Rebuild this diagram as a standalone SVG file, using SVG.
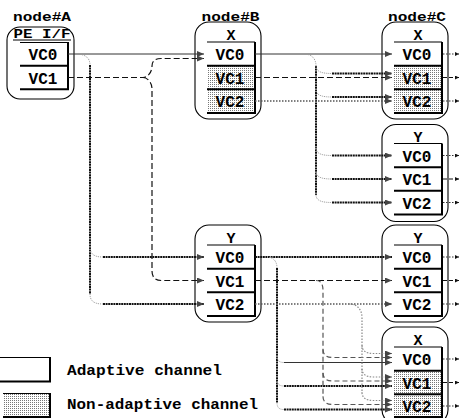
<svg xmlns="http://www.w3.org/2000/svg" width="459" height="418" viewBox="0 0 459 418">
  <defs>
    <pattern id="stip" width="2" height="2" patternUnits="userSpaceOnUse">
      <rect width="2" height="2" fill="#fff"/>
      <rect width="1" height="1" fill="#777"/>
    </pattern>
    <marker id="ah" viewBox="0 0 7 6" refX="7" refY="3" markerWidth="7" markerHeight="6" markerUnits="userSpaceOnUse" orient="auto">
      <path d="M0,0L7,3L0,6z" fill="#444"/>
    </marker>
    <marker id="ahs" viewBox="0 0 4 4" refX="4" refY="2" markerWidth="4" markerHeight="4" markerUnits="userSpaceOnUse" orient="auto">
      <path d="M0,0L4,2L0,4z" fill="#111"/>
    </marker>
  </defs>
  <style>
    .frame { fill: #fff; stroke: #000; stroke-width: 1.1; }
    .bt { fill: none; stroke: #000; stroke-width: 1.2; }
    .bk { fill: none; stroke: #000; stroke-width: 2; }
    .stip { fill: url(#stip); }
    .lbl { font-family: "Liberation Mono", "DejaVu Sans Mono", monospace; font-weight: bold; fill: #000; text-anchor: middle; }
    .nl { font-size: 13px; }
    .hd { font-size: 15px; }
    .vc { font-size: 16px; }
    .lg { font-family: "Liberation Mono", "DejaVu Sans Mono", monospace; font-weight: bold; font-size: 15px; fill: #000; }
    .ln { fill: none; stroke: #333; stroke-width: 1; }
    .tk { fill: none; stroke: #111; stroke-width: 2; stroke-dasharray: 2 0.6; }
    .cv { fill: none; stroke: #999; stroke-width: 1; stroke-dasharray: 1 1; }
    .ds { fill: none; stroke: #111; stroke-width: 1.2; stroke-dasharray: 6 3; }
    .dsg { fill: none; stroke: #555; stroke-width: 1.2; stroke-dasharray: 5 3; }
    .dt { fill: none; stroke: #555; stroke-width: 1.3; stroke-dasharray: 1.5 1.5; }
    .dtg { fill: none; stroke: #888; stroke-width: 1.2; stroke-dasharray: 1.5 1.5; }
    .os { fill: none; stroke: #333; stroke-width: 1.2; stroke-dasharray: 1.5 1.5; }
    .od { fill: none; stroke: #111; stroke-width: 1.2; stroke-dasharray: 4 2; }
  </style>

  <rect width="459" height="418" fill="#fff"/>

  <!-- node A: PE interface -->
  <g id="node-A">
    <text class="lbl nl" x="42" y="20.5" textLength="58" lengthAdjust="spacingAndGlyphs">node#A</text>
    <rect class="frame" x="7" y="27" width="67" height="72" rx="13"/>
    <text class="lbl nl" x="42" y="38" textLength="57" lengthAdjust="spacingAndGlyphs">PE I/F</text>
    <path class="bt" d="M13,40H71"/>
    <path class="bt" d="M20,42.5H68"/>
    <path class="bk" d="M68,42V89.3M20,65.7H68M20,89.3H69"/>
    <text class="lbl vc" x="43" y="60">VC0</text>
    <text class="lbl vc" x="43" y="83.7">VC1</text>
  </g>

  <!-- node B, dimension X -->
  <g id="node-B-X">
    <text class="lbl nl" x="230.5" y="20.5" textLength="58" lengthAdjust="spacingAndGlyphs">node#B</text>
    <rect class="frame" x="195" y="22" width="66" height="97" rx="14"/>
    <text class="lbl hd" x="231" y="40">X</text>
    <rect class="stip" x="207" y="65.7" width="48" height="47.3"/>
    <path class="bt" d="M207,42H255"/>
    <path class="bk" d="M255,42V113M207,65.7H255M207,89.3H255M207,113H256"/>
    <text class="lbl vc" x="230" y="60">VC0</text>
    <text class="lbl vc" x="230" y="83.7">VC1</text>
    <text class="lbl vc" x="230" y="107.3">VC2</text>
  </g>

  <!-- node B, dimension Y -->
  <g id="node-B-Y">
    <rect class="frame" x="195" y="225" width="66" height="97" rx="14"/>
    <text class="lbl hd" x="231" y="243">Y</text>
    <path class="bt" d="M207,245H255"/>
    <path class="bk" d="M255,245V316M207,268.7H255M207,292.3H255M207,316H256"/>
    <text class="lbl vc" x="230" y="263">VC0</text>
    <text class="lbl vc" x="230" y="286.7">VC1</text>
    <text class="lbl vc" x="230" y="310.3">VC2</text>
  </g>

  <!-- node C, dimension X -->
  <g id="node-C-X">
    <text class="lbl nl" x="417" y="20.5" textLength="58" lengthAdjust="spacingAndGlyphs">node#C</text>
    <rect class="frame" x="382" y="22" width="66" height="97" rx="14"/>
    <text class="lbl hd" x="418" y="40">X</text>
    <rect class="stip" x="394" y="65.7" width="48" height="47.3"/>
    <path class="bt" d="M394,42H442"/>
    <path class="bk" d="M442,42V113M394,65.7H442M394,89.3H442M394,113H443"/>
    <text class="lbl vc" x="417" y="60">VC0</text>
    <text class="lbl vc" x="417" y="83.7">VC1</text>
    <text class="lbl vc" x="417" y="107.3">VC2</text>
  </g>

  <!-- node C, dimension Y (upper) -->
  <g id="node-C-Y1">
    <rect class="frame" x="382" y="124.5" width="66" height="97" rx="14"/>
    <text class="lbl hd" x="418" y="141.5">Y</text>
    <path class="bt" d="M394,143.5H442"/>
    <path class="bk" d="M442,143.5V214.5M394,167.2H442M394,190.8H442M394,214.5H443"/>
    <text class="lbl vc" x="417" y="161.5">VC0</text>
    <text class="lbl vc" x="417" y="185.2">VC1</text>
    <text class="lbl vc" x="417" y="208.8">VC2</text>
  </g>

  <!-- node C, dimension Y (lower) -->
  <g id="node-C-Y2">
    <rect class="frame" x="382" y="225" width="66" height="97" rx="14"/>
    <text class="lbl hd" x="418" y="243">Y</text>
    <path class="bt" d="M394,245H442"/>
    <path class="bk" d="M442,245V316M394,268.7H442M394,292.3H442M394,316H443"/>
    <text class="lbl vc" x="417" y="263">VC0</text>
    <text class="lbl vc" x="417" y="286.7">VC1</text>
    <text class="lbl vc" x="417" y="310.3">VC2</text>
  </g>

  <!-- node C, dimension X (lower) -->
  <g id="node-C-X2">
    <rect class="frame" x="382" y="327" width="66" height="97" rx="14"/>
    <text class="lbl hd" x="418" y="345">X</text>
    <rect class="stip" x="394" y="370.7" width="48" height="47.3"/>
    <path class="bt" d="M394,347H442"/>
    <path class="bk" d="M442,347V418M394,370.7H442M394,394.3H442M394,417H443"/>
    <text class="lbl vc" x="417" y="365">VC0</text>
    <text class="lbl vc" x="417" y="388.7">VC1</text>
    <text class="lbl vc" x="417" y="412.3">VC2</text>
  </g>

  <!-- legend -->
  <g id="legend">
    <path class="bt" d="M0,357.5H50"/>
    <path class="bk" d="M50,357V382M0,381.5H51"/>
    <text class="lg" x="67" y="375" textLength="155" lengthAdjust="spacingAndGlyphs">Adaptive channel</text>
    <rect class="stip" x="3" y="393" width="47" height="24"/>
    <path class="bt" d="M3,393.5H50"/>
    <path class="bk" d="M50,393V418M3,417H51"/>
    <text class="lg" x="67" y="409" textLength="191" lengthAdjust="spacingAndGlyphs">Non-adaptive channel</text>
  </g>

  <g id="connectors">
    <!-- from node A VC0 -->
    <path class="ln" d="M68,54H204" marker-end="url(#ah)"/>
    <path class="cv" d="M76,54C84,54 90,57 90,65"/>
    <path class="tk" d="M90,65V294"/>
    <path class="cv" d="M90,247C90,254 94,257 103,257"/>
    <path class="tk" d="M103,257H204" marker-end="url(#ah)"/>
    <path class="cv" d="M90,294C90,301 94,304 103,304"/>
    <path class="tk" d="M103,304H204" marker-end="url(#ah)"/>

    <!-- from node A VC1 -->
    <path class="ds" d="M68,77.5H143C148,77.5 152,72 152,66C152,61 155,58.5 161,58.5H204" marker-end="url(#ah)"/>
    <path class="ds" d="M143,77.5C148,77.5 152,83 152,89V271C152,277 155,280.5 162,280.5H204" marker-end="url(#ah)"/>

    <!-- from node B X VC0 -->
    <path class="ln" d="M255,54H392" marker-end="url(#ah)"/>
    <path class="cv" d="M304,54C311,54 316,58 316,66"/>
    <path class="tk" d="M316,66V195"/>
    <path class="cv" d="M316,65.5C316,71.5 321,73.5 332,73.5"/>
    <path class="tk" d="M332,73.5H392" marker-end="url(#ah)"/>
    <path class="cv" d="M316,89C316,95 321,97 332,97"/>
    <path class="tk" d="M332,97H392" marker-end="url(#ah)"/>
    <path class="cv" d="M316,147.5C316,153.5 321,155.5 332,155.5"/>
    <path class="tk" d="M332,155.5H392" marker-end="url(#ah)"/>
    <path class="cv" d="M316,171C316,177 321,179 332,179"/>
    <path class="tk" d="M332,179H392" marker-end="url(#ah)"/>
    <path class="cv" d="M316,194.5C316,200.5 321,202.5 332,202.5"/>
    <path class="tk" d="M332,202.5H392" marker-end="url(#ah)"/>

    <!-- from node B X VC1 / VC2 -->
    <path class="ds" d="M255,77.5H392" marker-end="url(#ah)"/>
    <path class="dt" d="M255,101H392" marker-end="url(#ah)"/>

    <!-- from node B Y VC0 -->
    <path class="tk" d="M255,257H392" marker-end="url(#ah)"/>
    <path class="cv" d="M267,257C273,257 277,261 277,268"/>
    <path class="tk" d="M277,268V403"/>
    <path class="cv" d="M277,355.5C277,360.5 279,362.5 284,362.5"/>
    <path class="ln" d="M284,362.5H392" marker-end="url(#ah)"/>
    <path class="cv" d="M277,379C277,384 279,386 284,386"/>
    <path class="tk" d="M284,386H392" marker-end="url(#ah)"/>
    <path class="cv" d="M277,402.5C277,407.5 279,409.5 284,409.5"/>
    <path class="tk" d="M284,409.5H392" marker-end="url(#ah)"/>

    <!-- from node B Y VC1 -->
    <path class="ds" d="M255,280.5H392" marker-end="url(#ah)"/>
    <path class="dsg" d="M316,280.5C321,280.5 323,284 323,291V397"/>
    <path class="dsg" d="M323,349.5C323,354.5 326,357.5 333,357.5H392" marker-end="url(#ah)"/>
    <path class="dsg" d="M323,373C323,378 326,381 333,381H392" marker-end="url(#ah)"/>
    <path class="dsg" d="M323,396.5C323,401.5 326,404.5 333,404.5H392" marker-end="url(#ah)"/>

    <!-- from node B Y VC2 -->
    <path class="dt" d="M255,304H392" marker-end="url(#ah)"/>
    <path class="dtg" d="M349,304C357,304 362,309 362,318V393"/>
    <path class="dtg" d="M362,345.5C362,350.5 366,353.5 373,353.5H392" marker-end="url(#ah)"/>
    <path class="dtg" d="M362,369C362,374 366,377 373,377H392" marker-end="url(#ah)"/>
    <path class="dtg" d="M362,392.5C362,397.5 366,400.5 373,400.5H392" marker-end="url(#ah)"/>

    <!-- outputs of node C -->
    <path class="os" d="M443,54H459" marker-end="url(#ahs)"/>
    <path class="od" d="M443,77.5H459" marker-end="url(#ahs)"/>
    <path class="os" d="M443,101H459" marker-end="url(#ahs)"/>
    <path class="os" d="M443,155.5H459" marker-end="url(#ahs)"/>
    <path class="od" d="M443,179H459" marker-end="url(#ahs)"/>
    <path class="os" d="M443,202.5H459" marker-end="url(#ahs)"/>
    <path class="os" d="M443,257H459" marker-end="url(#ahs)"/>
    <path class="od" d="M443,280.5H459" marker-end="url(#ahs)"/>
    <path class="os" d="M443,304H459" marker-end="url(#ahs)"/>
    <path class="os" d="M443,359H459" marker-end="url(#ahs)"/>
    <path class="od" d="M443,382.5H459" marker-end="url(#ahs)"/>
    <path class="os" d="M443,406H459" marker-end="url(#ahs)"/>
  </g>
</svg>
